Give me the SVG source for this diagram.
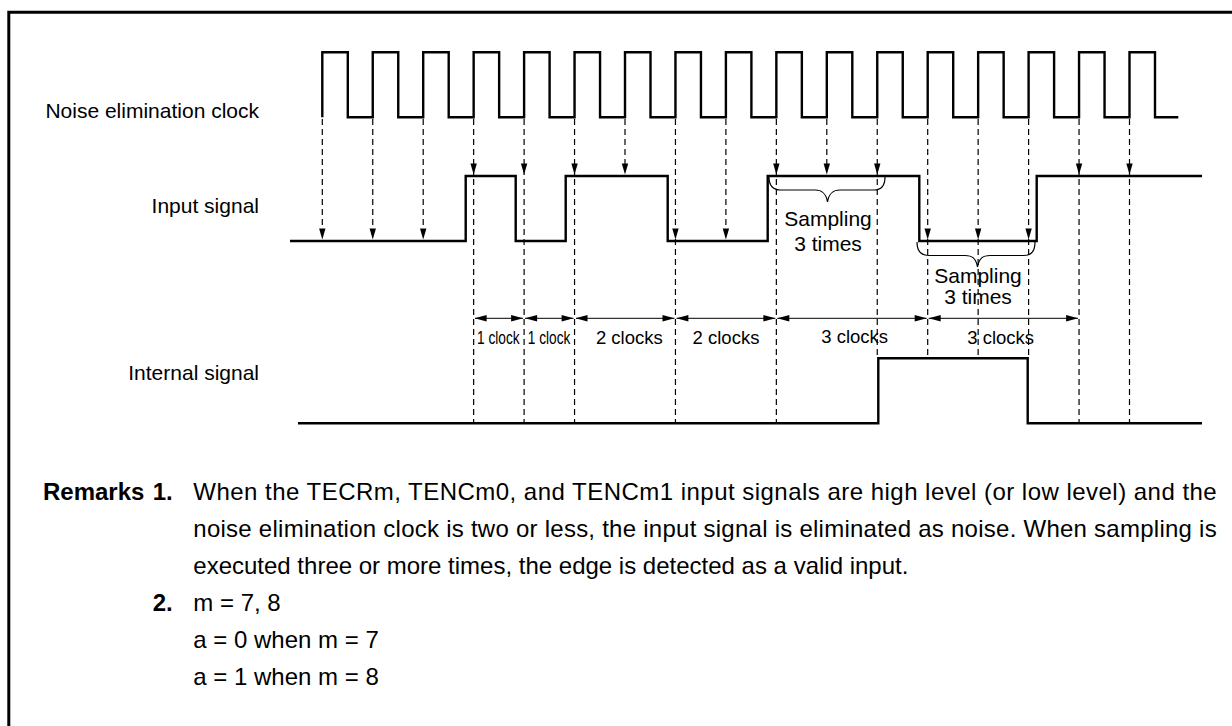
<svg xmlns="http://www.w3.org/2000/svg" xmlns:xlink="http://www.w3.org/1999/xlink" width="1232" height="726" viewBox="0 0 1232 726">
<style>
text{font-family:"Liberation Sans",Arial,Helvetica,sans-serif;fill:#000}
.lbl{font-size:21px}
.mlbl{font-size:18.5px}
.rem{font-size:24px}
.b{font-weight:bold}
.sig{fill:none;stroke:#000;stroke-width:2.4;stroke-linejoin:miter}
.dash{fill:none;stroke:#000;stroke-width:1.2;stroke-dasharray:6 4}
.meas{fill:none;stroke:#333;stroke-width:1.2}
.brace{fill:none;stroke:#000;stroke-width:1.2}
.ah{fill:#000;stroke:none}
</style>
<defs>
<path id="ahd" class="ah" d="M0,0 L-3.2,-11 L3.2,-11 Z"/>
<path id="ahr" class="ah" d="M0,0 L-12,-3.3 L-12,3.3 Z"/>
<path id="ahl" class="ah" d="M0,0 L12,-3.3 L12,3.3 Z"/>
</defs>
<rect width="1232" height="726" fill="#fff"/>
<path d="M1232,12.3 H8.8 V726" fill="none" stroke="#000" stroke-width="3"/>

<g id="labels">
<text class="lbl" x="259" y="118" text-anchor="end">Noise elimination clock</text>
<text class="lbl" x="259" y="213" text-anchor="end">Input signal</text>
<text class="lbl" x="259" y="380" text-anchor="end">Internal signal</text>
</g>

<g id="clock">
<path class="sig" d="M322.3,117.3 V52.3 H347.8 V117.3 H372.75 V52.3 H398.25 V117.3 H423.2 V52.3 H448.7 V117.3 H473.65 V52.3 H499.15 V117.3 H524.1 V52.3 H549.6 V117.3 H574.55 V52.3 H600.05 V117.3 H625 V52.3 H650.5 V117.3 H675.45 V52.3 H700.95 V117.3 H725.9 V52.3 H751.4 V117.3 H776.35 V52.3 H801.85 V117.3 H826.8 V52.3 H852.3 V117.3 H877.25 V52.3 H902.75 V117.3 H927.7 V52.3 H953.2 V117.3 H978.15 V52.3 H1003.65 V117.3 H1028.6 V52.3 H1054.1 V117.3 H1079.05 V52.3 H1104.55 V117.3 H1129.5 V52.3 H1155 V117.3 H1178.3"/>
</g>

<g id="input">
<path class="sig" d="M290,241 H465.7 V176 H515.7 V241 H565.7 V176 H667.7 V241 H767.7 V176 H919.3 V241 H1036.7 V176 H1202"/>
</g>

<g id="internal">
<path class="sig" d="M298,423.3 H878.3 V358.3 H1027.7 V423.3 H1202"/>
</g>

<g id="connectors">
<g id="sample-lines">
<line class="dash" x1="322.3" y1="119" x2="322.3" y2="230"/>
<line class="dash" x1="372.75" y1="119" x2="372.75" y2="230"/>
<line class="dash" x1="423.2" y1="119" x2="423.2" y2="230"/>
<line class="dash" x1="473.65" y1="119" x2="473.65" y2="422"/>
<line class="dash" x1="524.1" y1="119" x2="524.1" y2="422"/>
<line class="dash" x1="574.55" y1="119" x2="574.55" y2="422"/>
<line class="dash" x1="625" y1="119" x2="625" y2="166"/>
<line class="dash" x1="675.45" y1="119" x2="675.45" y2="422"/>
<line class="dash" x1="725.9" y1="119" x2="725.9" y2="230"/>
<line class="dash" x1="776.35" y1="119" x2="776.35" y2="422"/>
<line class="dash" x1="826.8" y1="119" x2="826.8" y2="166"/>
<line class="dash" x1="877.25" y1="119" x2="877.25" y2="358"/>
<line class="dash" x1="927.7" y1="119" x2="927.7" y2="358"/>
<line class="dash" x1="978.15" y1="119" x2="978.15" y2="358"/>
<line class="dash" x1="1028.6" y1="119" x2="1028.6" y2="358"/>
<line class="dash" x1="1079.05" y1="119" x2="1079.05" y2="422"/>
<line class="dash" x1="1129.5" y1="119" x2="1129.5" y2="422"/>
</g>
<g id="sample-heads">
<use xlink:href="#ahd" x="322.3" y="239.6"/>
<use xlink:href="#ahd" x="372.75" y="239.6"/>
<use xlink:href="#ahd" x="423.2" y="239.6"/>
<use xlink:href="#ahd" x="473.65" y="174.6"/>
<use xlink:href="#ahd" x="524.1" y="174.6"/>
<use xlink:href="#ahd" x="574.55" y="174.6"/>
<use xlink:href="#ahd" x="625" y="174.6"/>
<use xlink:href="#ahd" x="675.45" y="239.6"/>
<use xlink:href="#ahd" x="725.9" y="239.6"/>
<use xlink:href="#ahd" x="776.35" y="174.6"/>
<use xlink:href="#ahd" x="826.8" y="174.6"/>
<use xlink:href="#ahd" x="877.25" y="174.6"/>
<use xlink:href="#ahd" x="927.7" y="239.6"/>
<use xlink:href="#ahd" x="978.15" y="239.6"/>
<use xlink:href="#ahd" x="1028.6" y="239.6"/>
<use xlink:href="#ahd" x="1079.05" y="174.6"/>
<use xlink:href="#ahd" x="1129.5" y="174.6"/>
</g>
<g id="measures">
<line class="meas" x1="475" y1="318.3" x2="523" y2="318.3"/>
<use xlink:href="#ahl" x="474.6" y="318.3"/><use xlink:href="#ahr" x="523.1" y="318.3"/>
<line class="meas" x1="525" y1="318.3" x2="573.5" y2="318.3"/>
<use xlink:href="#ahl" x="525.1" y="318.3"/><use xlink:href="#ahr" x="573.6" y="318.3"/>
<line class="meas" x1="576" y1="318.3" x2="674.5" y2="318.3"/>
<use xlink:href="#ahl" x="575.5" y="318.3"/><use xlink:href="#ahr" x="674.5" y="318.3"/>
<line class="meas" x1="676.5" y1="318.3" x2="775.3" y2="318.3"/>
<use xlink:href="#ahl" x="676.4" y="318.3"/><use xlink:href="#ahr" x="775.4" y="318.3"/>
<line class="meas" x1="777.3" y1="318.3" x2="926.7" y2="318.3"/>
<use xlink:href="#ahl" x="777.3" y="318.3"/><use xlink:href="#ahr" x="926.7" y="318.3"/>
<line class="meas" x1="928.7" y1="318.3" x2="1078" y2="318.3"/>
<use xlink:href="#ahl" x="928.7" y="318.3"/><use xlink:href="#ahr" x="1078.1" y="318.3"/>
</g>
<g id="braces">
<path class="brace" d="M769,177 C769,185 772,190 781,190 H815 C822,190 826,193 827.5,202 C829,193 833,190 840,190 H874 C882,190 885,185 885,177"/>
<path class="brace" d="M917,242 C917,250 920,255.5 929,255.5 H965 C972,255.5 976,258 977.5,267 C979,258 983,255.5 990,255.5 H1024 C1032,255.5 1035,250 1035,242"/>
</g>
</g>

<g id="measure-labels">
<text class="mlbl" transform="translate(477,344) scale(0.74,1)">1 clock</text>
<text class="mlbl" transform="translate(527.8,344) scale(0.74,1)">1 clock</text>
<text class="mlbl" x="629.3" y="344" text-anchor="middle">2 clocks</text>
<text class="mlbl" x="726" y="344" text-anchor="middle">2 clocks</text>
<text class="mlbl" x="854.7" y="343" text-anchor="middle">3 clocks</text>
<text class="mlbl" x="1000.7" y="344" text-anchor="middle">3 clocks</text>
</g>

<g id="sampling-labels">
<text class="lbl" x="828" y="226" text-anchor="middle">Sampling</text>
<text class="lbl" x="828" y="251" text-anchor="middle">3 times</text>
<text class="lbl" x="978" y="283" text-anchor="middle">Sampling</text>
<text class="lbl" x="978" y="304" text-anchor="middle">3 times</text>
</g>

<g id="remarks">
<text class="rem b" x="43" y="500">Remarks</text>
<text class="rem b" x="172.7" y="500" text-anchor="end">1.</text>
<text class="rem" x="193.3" y="500" textLength="1023.4" lengthAdjust="spacing">When the TECRm, TENCm0, and TENCm1 input signals are high level (or low level) and the</text>
<text class="rem" x="193.3" y="537" textLength="1023.4" lengthAdjust="spacing">noise elimination clock is two or less, the input signal is eliminated as noise. When sampling is</text>
<text class="rem" x="193.3" y="574">executed three or more times, the edge is detected as a valid input.</text>
<text class="rem b" x="172.7" y="611" text-anchor="end">2.</text>
<text class="rem" x="193.3" y="611">m = 7, 8</text>
<text class="rem" x="193.3" y="648">a = 0 when m = 7</text>
<text class="rem" x="193.3" y="685">a = 1 when m = 8</text>
</g>
</svg>
